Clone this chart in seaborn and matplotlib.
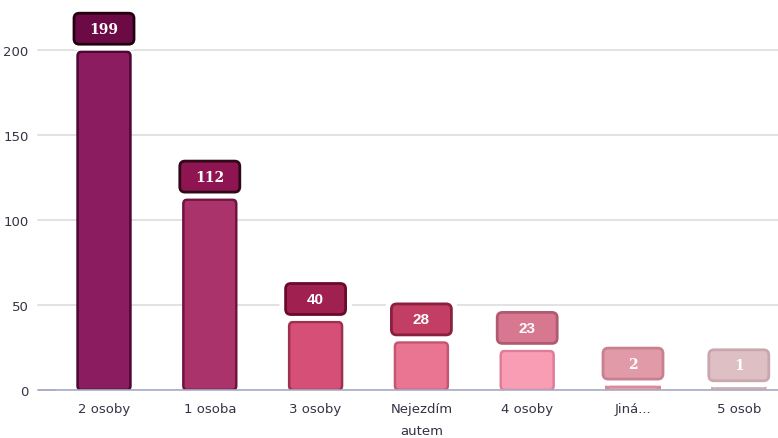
import matplotlib
matplotlib.use("Agg")
import matplotlib.pyplot as plt
from matplotlib.patches import FancyBboxPatch
import seaborn as sns
import pandas as pd

categories = ["2 osoby", "1 osoba", "3 osoby", "Nejezdím\nautem", "4 osoby", "Jiná...", "5 osob"]
values = [199, 112, 40, 28, 23, 2, 1]
y_ticks = [0, 50, 100, 150, 200]

bar_colors = ["#8A1C5F", "#AB336C", "#D64F76", "#EA7592", "#F99DB5", "#F2A2B2", "#E6C6CA"]
bar_edges = ["#4E0632", "#70133F", "#A0304F", "#C4566F", "#E07C98", "#DC8898", "#D2AEB3"]
box_colors = ["#6B0A45", "#8E1552", "#A0204F", "#C23E63", "#D77790", "#E09AA8", "#DDBFC4"]
box_edges = ["#220010", "#300818", "#6A0A2C", "#8A2040", "#B05A70", "#C88090", "#C8A8AE"]
serif_labels = {0, 1, 5, 6}

sns.set_theme(style="white")
plt.rcParams["font.family"] = ["DejaVu Sans"]

df = pd.DataFrame({"category": categories, "value": values})

fig = plt.figure(figsize=(7.78, 4.39), dpi=100)
W, H = 778, 439
left_px, right_px, bottom_px, top_px = 55, 778, 391, 8
ax = fig.add_axes([left_px / W, 1 - bottom_px / H, (right_px - left_px) / W, (bottom_px - top_px) / H])

px_per_x = 105.8
px_per_y = 1.7
x0 = -(104 - left_px) / px_per_x
x1 = x0 + (right_px - left_px) / px_per_x
ymax = (bottom_px - top_px) / px_per_y

sns.barplot(data=df, x="category", y="value", hue="category", palette=bar_colors,
            legend=False, width=0.5, ax=ax, zorder=3)

ax.set_xlim(x0, x1)
ax.set_ylim(0, ymax)
ax.set_yticks(y_ticks)
ax.yaxis.grid(True, color="#E2E2E2", linewidth=1.4, zorder=0)
ax.set_axisbelow(True)
for s in ["top", "right", "left"]:
    ax.spines[s].set_visible(False)
ax.spines["bottom"].set_color("#A7AEC4")
ax.spines["bottom"].set_linewidth(1.2)
ax.spines["bottom"].set_zorder(5)
ax.set_xlabel("")
ax.set_ylabel("")
ax.tick_params(axis="y", length=0, pad=19, labelsize=9.5, labelcolor="#333344")
ax.tick_params(axis="x", length=0, pad=9, labelsize=9.5, labelcolor="#333344")
for lab in ax.get_xticklabels():
    lab.set_linespacing(1.85)
    lab.set_verticalalignment("top")

# short tick dashes on the left of each gridline
for t in y_ticks:
    ax.plot([x0 - 17 / px_per_x, x0], [t, t], color="#E2E2E2" if t else "#A7AEC4",
            lw=1.4, clip_on=False, zorder=1)

aspect = (1 / px_per_y) / (1 / px_per_x)

# rounded bars replacing the plain rectangles
for i, p in enumerate(list(ax.patches)):
    x, w, h = p.get_x(), p.get_width(), p.get_height()
    p.set_visible(False)
    rs = 0.04
    ax.add_patch(FancyBboxPatch((x, 0), w, h, boxstyle=f"round,pad=0,rounding_size={rs}",
                                mutation_aspect=aspect, facecolor=bar_colors[i],
                                edgecolor=bar_edges[i], linewidth=1.8, zorder=3))

# value badges above the bars
box_w = 60 / px_per_x
box_h = 31 / px_per_y
gap = 6 / px_per_y
for i, v in enumerate(values):
    bx = i - box_w / 2
    by = v + gap + 1.5 / px_per_y
    ax.add_patch(FancyBboxPatch((bx, by), box_w, box_h,
                                boxstyle="round,pad=0,rounding_size=0.05",
                                mutation_aspect=aspect, facecolor="white",
                                edgecolor="white", linewidth=9, zorder=4))
    ax.add_patch(FancyBboxPatch((bx, by), box_w, box_h,
                                boxstyle="round,pad=0,rounding_size=0.05",
                                mutation_aspect=aspect, facecolor=box_colors[i],
                                edgecolor=box_edges[i], linewidth=2.0, zorder=5))
    fam = "DejaVu Serif" if i in serif_labels else "Liberation Sans"
    ax.text(i, by + box_h / 2, str(v), ha="center", va="center", color="white",
            fontsize=10 if fam == "DejaVu Serif" else 11, fontweight="bold",
            family=fam, zorder=6)

fig.savefig("out.png", dpi=100)
